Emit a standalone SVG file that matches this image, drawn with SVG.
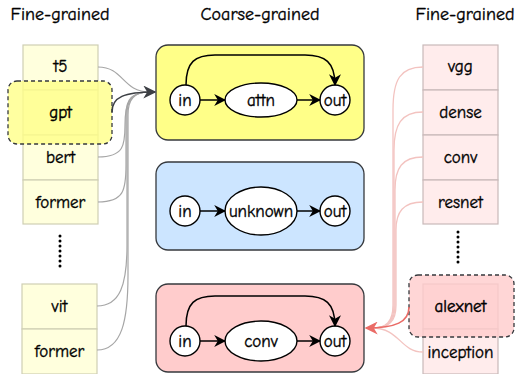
<svg xmlns="http://www.w3.org/2000/svg" width="516" height="374" viewBox="0 0 516 374">
  <style>
    text { font-family: "Comic Neue", "Noto Sans", "DejaVu Sans", sans-serif; fill: #000; stroke: #000; stroke-width: 0.35; text-anchor: middle; dominant-baseline: central; }
    .hdr { font-size: 18px; }
    .lbl { font-size: 17px; }
    .cellL { fill: #ffffdd; stroke: #cfcfb4; stroke-width: 1.2; }
    .cellR { fill: #ffecec; stroke: #c9b9b9; stroke-width: 1.2; }
    .group { stroke: #36393d; stroke-width: 1.3; }
    .hl { stroke: #36393d; stroke-width: 1.3; stroke-dasharray: 4 3; }
    .node { fill: #ffffff; stroke: #000; stroke-width: 1.4; }
    .flow { fill: none; stroke: #000; stroke-width: 1.5; marker-end: url(#blk); }
    .grey { fill: none; stroke: #a6a6a6; stroke-width: 1.2; }
    .pink { fill: none; stroke: #f3c3c0; stroke-width: 1.3; }
    .dots { stroke: #000; stroke-width: 3; stroke-linecap: round; stroke-dasharray: 0 5; }
  </style>
  <defs>
    <marker id="blk" viewBox="0 0 10 10" refX="9" refY="5" markerWidth="12" markerHeight="12" markerUnits="userSpaceOnUse" orient="auto">
      <path d="M0,0 L10,5 L0,10 L3,5 Z" fill="#000"/>
    </marker>
    <marker id="gry" viewBox="0 0 10 10" refX="9" refY="5" markerWidth="13" markerHeight="13" markerUnits="userSpaceOnUse" orient="auto">
      <path d="M0,0 L10,5 L0,10 L3,5 Z" fill="#3c3f44"/>
    </marker>
    <marker id="red" viewBox="0 0 10 10" refX="9" refY="5" markerWidth="13" markerHeight="13" markerUnits="userSpaceOnUse" orient="auto">
      <path d="M0,0 L10,5 L0,10 L3,5 Z" fill="#ea6b66"/>
    </marker>
  </defs>

  <!-- column headers -->
  <text class="hdr" x="60" y="14">Fine-grained</text>
  <text class="hdr" x="260" y="14">Coarse-grained</text>
  <text class="hdr" x="465" y="14">Fine-grained</text>

  <!-- left fine-grained list -->
  <g id="left-t5"><rect class="cellL" x="23" y="45" width="75" height="45"/><text class="lbl" x="60.5" y="66">t5</text></g>
  <g id="left-gpt"><rect class="cellL" x="23" y="90" width="75" height="45"/><text class="lbl" x="60.5" y="112">gpt</text></g>
  <g id="left-bert"><rect class="cellL" x="23" y="135" width="75" height="45"/><text class="lbl" x="60.5" y="157">bert</text></g>
  <g id="left-former"><rect class="cellL" x="23" y="180" width="75" height="44"/><text class="lbl" x="60.5" y="202">former</text></g>
  <g id="left-dots"><line class="dots" x1="60" y1="236" x2="60" y2="268"/></g>
  <g id="left-vit"><rect class="cellL" x="22" y="284" width="75" height="45"/><text class="lbl" x="59.5" y="306">vit</text></g>
  <g id="left-former2"><rect class="cellL" x="22" y="329" width="75" height="45"/><text class="lbl" x="59.5" y="351">former</text></g>
  <g id="left-highlight">
    <rect class="hl" x="8" y="81" width="104" height="63" rx="9" fill="#ffff88" fill-opacity="0.8"/>
    <text class="lbl" x="60.5" y="112">gpt</text>
  </g>

  <!-- right fine-grained list -->
  <g id="right-vgg"><rect class="cellR" x="423" y="45" width="75" height="45"/><text class="lbl" x="460.5" y="66">vgg</text></g>
  <g id="right-dense"><rect class="cellR" x="423" y="90" width="75" height="45"/><text class="lbl" x="460.5" y="112">dense</text></g>
  <g id="right-conv"><rect class="cellR" x="423" y="135" width="75" height="45"/><text class="lbl" x="460.5" y="157">conv</text></g>
  <g id="right-resnet"><rect class="cellR" x="423" y="180" width="75" height="44"/><text class="lbl" x="460.5" y="202">resnet</text></g>
  <g id="right-dots"><line class="dots" x1="458" y1="232" x2="458" y2="263"/></g>
  <g id="right-alexnet"><rect class="cellR" x="423" y="284" width="75" height="45"/><text class="lbl" x="460.5" y="306">alexnet</text></g>
  <g id="right-inception"><rect class="cellR" x="423" y="329" width="75" height="45"/><text class="lbl" x="460.5" y="352">inception</text></g>
  <g id="right-highlight">
    <rect class="hl" x="409" y="275" width="105" height="62" rx="9" fill="#ffcccc" fill-opacity="0.8"/>
    <text class="lbl" x="460.5" y="306">alexnet</text>
  </g>

  <!-- coarse-grained groups -->
  <g id="group-attn">
    <rect class="group" x="156" y="45" width="208" height="95" rx="12" fill="#ffff88"/>
    <circle class="node" cx="185" cy="100" r="15"/><text class="lbl" x="185" y="100">in</text>
    <ellipse class="node" cx="261" cy="100" rx="36" ry="17"/><text class="lbl" x="261" y="100">attn</text>
    <circle class="node" cx="335" cy="100" r="15"/><text class="lbl" x="335" y="100">out</text>
    <path class="flow" d="M200,100 L225,100"/>
    <path class="flow" d="M297,100 L320,100"/>
    <path class="flow" d="M186,85 C186,62 195,55 215,55 L305,55 C325,55 335,62 335,85"/>
  </g>
  <g id="group-unknown">
    <rect class="group" x="156" y="162" width="208" height="88" rx="12" fill="#cce5ff"/>
    <circle class="node" cx="185" cy="211" r="15"/><text class="lbl" x="185" y="211">in</text>
    <ellipse class="node" cx="261" cy="211" rx="36" ry="24"/><text class="lbl" x="261" y="211">unknown</text>
    <circle class="node" cx="335" cy="211" r="15"/><text class="lbl" x="335" y="211">out</text>
    <path class="flow" d="M200,211 L225,211"/>
    <path class="flow" d="M297,211 L320,211"/>
  </g>
  <g id="group-conv">
    <rect class="group" x="156" y="284" width="208" height="88" rx="12" fill="#ffcccc"/>
    <circle class="node" cx="185" cy="341" r="15"/><text class="lbl" x="185" y="341">in</text>
    <ellipse class="node" cx="261" cy="341" rx="36" ry="20"/><text class="lbl" x="261" y="341">conv</text>
    <circle class="node" cx="335" cy="341" r="15"/><text class="lbl" x="335" y="341">out</text>
    <path class="flow" d="M200,341 L225,341"/>
    <path class="flow" d="M297,341 L320,341"/>
    <path class="flow" d="M186,326 C186,303 195,296 215,296 L305,296 C325,296 335,303 335,326"/>
  </g>

  <!-- connectors from the fine-grained lists to the coarse groups -->
  <g id="connectors">
    <path class="grey" d="M98,67 C124,67 122,92 150,92"/>
    <path class="grey" d="M98,157 C124,157 125,145 125,125 C125,102 130,92 150,92"/>
    <path class="grey" d="M98,202 C124,202 126,190 126,165 L126,115 C126,99 132,92 150,92"/>
    <path class="grey" d="M97,306 C120,306 127,285 127,245 L127,115 C127,99 133,92 150,92"/>
    <path class="grey" d="M97,350 C122,350 128,320 128,275 L128,115 C128,99 134,92 150,92"/>
    <path fill="none" stroke="#3c3f44" stroke-width="1.6" marker-end="url(#gry)" d="M112,112 C112,97 124,92 155,92"/>

    <path class="pink" d="M423,67 C400,67 393,80 393,110 L393,305 C393,322 386,328 372,328"/>
    <path class="pink" d="M423,112 C401,112 394,125 394,150 L394,305 C394,322 387,328 372,328"/>
    <path class="pink" d="M423,157 C402,157 395,168 395,190 L395,305 C395,322 388,328 372,328"/>
    <path class="pink" d="M423,202 C403,202 396,212 396,230 L396,305 C396,322 389,328 372,328"/>
    <path class="pink" d="M423,352 C400,352 400,328 372,328"/>
    <path fill="none" stroke="#ea6b66" stroke-width="1.6" marker-end="url(#red)" d="M409,307 C409,322 396,328 366,328"/>
  </g>
</svg>
